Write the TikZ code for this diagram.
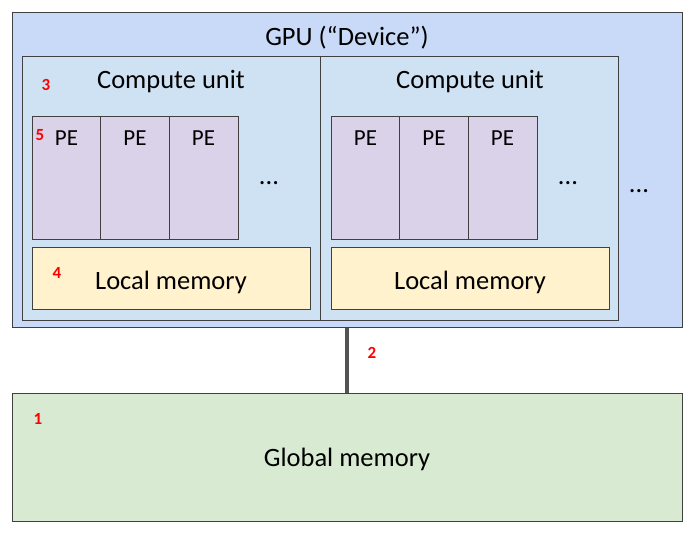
\documentclass[tikz,border=0pt]{standalone}
\usepackage{fontspec}
\setmainfont{Carlito}
\usetikzlibrary{positioning}

\definecolor{gpublue}{HTML}{C9DAF8}
\definecolor{cublue}{HTML}{CFE2F3}
\definecolor{pepurple}{HTML}{D9D2E9}
\definecolor{localyellow}{HTML}{FFF2CC}
\definecolor{globalgreen}{HTML}{D9EAD3}
\definecolor{edgegray}{HTML}{404040}

\begin{document}
\begin{tikzpicture}[
            x = 1pt, y = -1pt, % pixel-like units
            box/.style = {draw=edgegray, line width=1pt, anchor=north west,
                          inner sep=0pt, outer sep=0pt},
            gpubox/.style = {box, fill=gpublue},
            cubox/.style = {box, fill=cublue, minimum width=298pt, minimum height=264pt},
            pebox/.style = {box, fill=pepurple, minimum width=69pt, minimum height=123pt},
            localbox/.style = {box, fill=localyellow, minimum width=278pt, minimum height=62pt},
            globalbox/.style = {box, fill=globalgreen},
            txt/.style = {font=\fontsize{26.5}{30}\selectfont, inner sep=0pt},
            petxt/.style = {font=\fontsize{23}{26}\selectfont, inner sep=0pt},
            num/.style = {text=red, font=\fontsize{17}{19}\selectfont\bfseries, inner sep=0pt},
            bus/.style = {draw=edgegray!90, line width=3.5pt} % link to global memory
        ]

	\useasboundingbox (0,0) rectangle (693,534);

	% GPU and global memory
	\node[gpubox, minimum width=670pt, minimum height=315pt] (gpu) at (12,13) {};
	\node[txt] (gputitle) at (347,37.5) {GPU (“Device”)};
	\node[globalbox, minimum width=670pt, minimum height=128pt] (global) at (12,393) {};
	\node[txt] at ([yshift=-2.5pt]global.center) {Global memory};

	% compute units
	\node[cubox] (cu1) at (22,57) {};
	\node[cubox] (cu2) at (320,57) {};
	\node[txt] (cutitle1) at (171,82) {Compute unit};
	\node[txt] (cutitle2) at (470,82) {Compute unit};

	% processing elements
	\foreach \cx/\cu in {32/1, 331/2} {
		\node[pebox] (pe\cu a) at (\cx,117) {};
		\node[pebox] (pe\cu b) at ([xshift=-0.5pt]pe\cu a.north east) {};
		\node[pebox] (pe\cu c) at ([xshift=-0.5pt]pe\cu b.north east) {};
		\foreach \p in {a,b,c}
			\node[petxt] at ([yshift=-21pt]pe\cu\p.north) {PE};
		\node[txt] (dots\cu) at ([xshift=31pt,yshift=-5pt]pe\cu c.east) {...};
		\node[localbox] (local\cu) at (\cx,248) {};
		\node[txt] at ([yshift=-3pt]local\cu.center) {Local memory};
	}
	\node[txt] (dotsgpu) at (639,191) {...};

	% bus
	\draw[bus] (gpu.south) -- (global.north);

	% red markers
	\node[num] (n1) at (38,419) {1};
	\node[num] (n2) at (372,353) {2};
	\node[num] (n3) at (46,85) {3};
	\node[num] (n4) at (57,273) {4};
	\node[num] (n5) at (40,135) {5};

\end{tikzpicture}
\end{document}
